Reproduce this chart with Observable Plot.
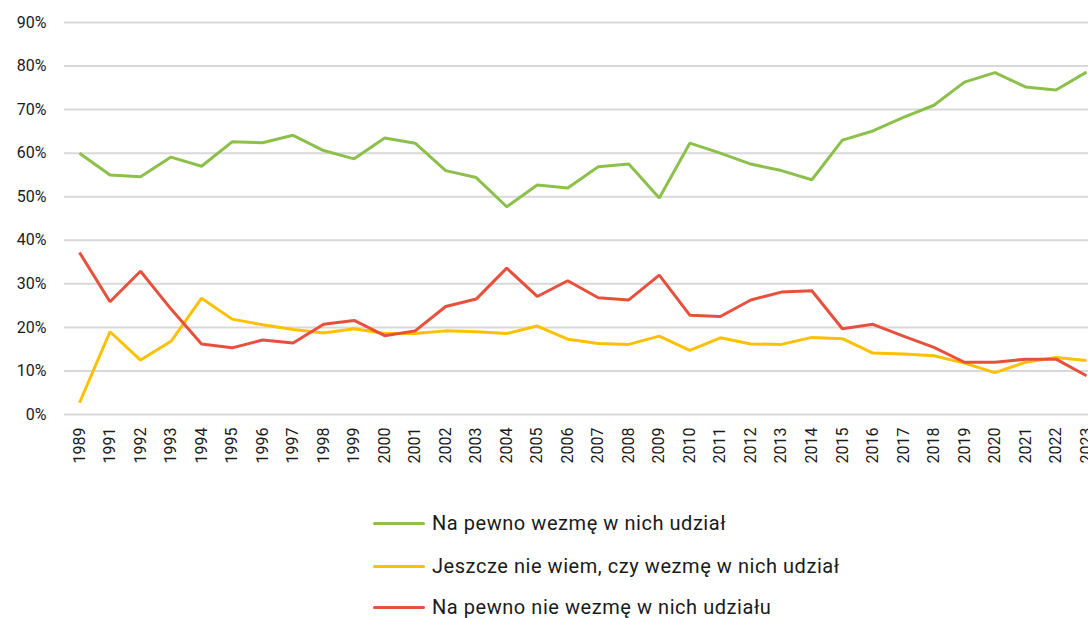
<!DOCTYPE html>
<html>
<head>
<meta charset="utf-8">
<script src="https://cdn.jsdelivr.net/npm/d3@7"></script>
<script src="https://cdn.jsdelivr.net/npm/@observablehq/plot@0.6"></script>
<style>
  html, body { margin: 0; padding: 0; background: #fff; }
  #wrap { position: relative; width: 1088px; height: 618px; overflow: hidden; font-family: Roboto, sans-serif; }
  #chart { position: absolute; left: 0; top: 0; }
  .leg { position: absolute; left: 373px; display: flex; align-items: center; font-size: 20px; letter-spacing: 0.55px; color: #1a1a1a; white-space: nowrap; }
  .leg .sw { width: 52px; height: 3px; border-radius: 2px; margin-right: 7px; }
</style>
</head>
<body>
<div id="wrap"><div id="chart"></div></div>
<script>
const years = ["1989","1991","1992","1993","1994","1995","1996","1997","1998","1999","2000","2001","2002","2003","2004","2005","2006","2007","2008","2009","2010","2011","2012","2013","2014","2015","2016","2017","2018","2019","2020","2021","2022","2023"];
const seriesNames = ["Na pewno wezmę w nich udział", "Jeszcze nie wiem, czy wezmę w nich udział", "Na pewno nie wezmę w nich udziału"];
const seriesColors = ["#8cc04b", "#ffc000", "#e7503d"];
const certainYes = [60.0,55.0,54.6,59.1,57.0,62.6,62.4,64.1,60.6,58.7,63.5,62.3,56.0,54.4,47.7,52.7,52.0,56.9,57.5,49.7,62.3,60.0,57.5,56.0,53.9,63.0,65.1,68.2,71.0,76.3,78.5,75.2,74.5,78.6];
const undecided = [2.7,19.0,12.5,16.8,26.7,21.9,20.6,19.5,18.7,19.7,18.6,18.6,19.2,19.0,18.6,20.3,17.3,16.3,16.1,18.0,14.7,17.6,16.2,16.1,17.7,17.4,14.1,13.9,13.5,11.8,9.6,12.0,13.1,12.4];
const certainNo = [37.2,25.9,32.9,24.2,16.2,15.3,17.1,16.4,20.7,21.6,18.1,19.2,24.8,26.5,33.6,27.1,30.7,26.8,26.3,32.0,22.8,22.5,26.3,28.1,28.4,19.7,20.7,18.0,15.4,12.0,12.0,12.7,12.7,8.9];
const yTicks = [0,0.1,0.2,0.3,0.4,0.5,0.6,0.7,0.8,0.9];

const allSeries = [certainYes, undecided, certainNo];
const rows = [];
allSeries.forEach((vals, s) => {
  vals.forEach((v, i) => rows.push({year: years[i], value: v / 100, series: seriesNames[s]}));
});

const plot = Plot.plot({
  width: 1088,
  height: 475,
  marginLeft: 64,
  marginRight: 0,
  marginTop: 22,
  marginBottom: 61,
  style: {fontFamily: "Roboto, sans-serif", fontSize: "16px", color: "#1a1a1a", background: "transparent"},
  x: {type: "point", domain: years, range: [79, 1086], padding: 0, round: false, label: null},
  y: {domain: [0, 0.9], label: null},
  color: {domain: seriesNames, range: seriesColors},
  marks: [
    Plot.ruleY(yTicks, {stroke: "#d9d9d9", strokeWidth: 2}),
    Plot.axisY({ticks: yTicks, tickFormat: d3.format(".0%"), tickSize: 0, tickPadding: 18, fontSize: 16, label: null}),
    Plot.axisX({tickSize: 0, tickPadding: 13, tickRotate: -90, fontSize: 16, label: null}),
    Plot.line(rows, {x: "year", y: "value", z: "series", stroke: "series", strokeWidth: 3, strokeLinejoin: "miter", strokeLinecap: "butt"})
  ]
});
document.getElementById("chart").appendChild(plot);

const wrap = document.getElementById("wrap");
const legTops = [523, 566, 607];
seriesNames.forEach((name, i) => {
  const d = document.createElement("div");
  d.className = "leg";
  d.style.top = (legTops[i] - 12) + "px";
  d.style.height = "24px";
  const sw = document.createElement("span");
  sw.className = "sw";
  sw.style.background = seriesColors[i];
  const t = document.createElement("span");
  t.textContent = name;
  d.appendChild(sw);
  d.appendChild(t);
  wrap.appendChild(d);
});
</script>
</body>
</html>
